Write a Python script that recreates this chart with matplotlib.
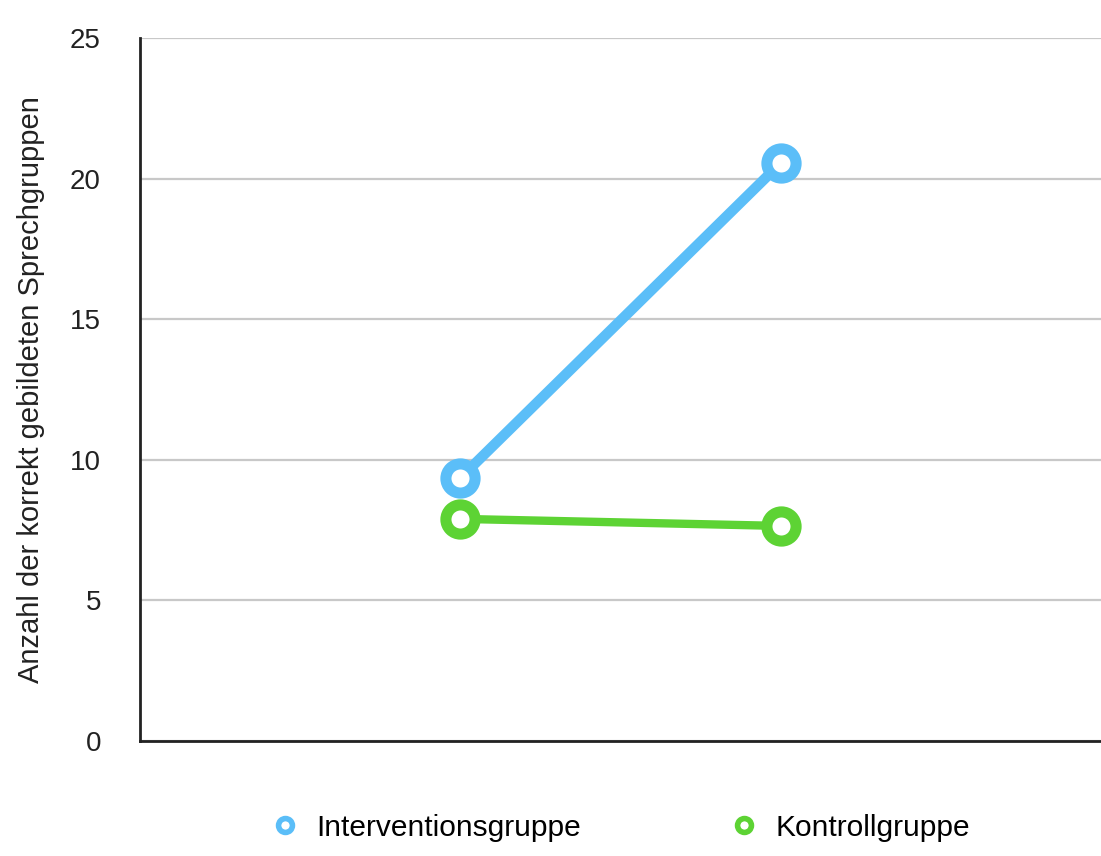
import matplotlib.pyplot as plt
from matplotlib.lines import Line2D

plt.rcParams['font.family'] = ['Liberation Sans', 'DejaVu Sans']

# Messzeitpunkte (ohne Beschriftung) und Mittelwerte der beiden Gruppen
zeitpunkte = [1, 2]
intervention = [9.35, 20.55]
kontrolle = [7.9, 7.65]
gruppen = ['Interventionsgruppe', 'Kontrollgruppe']
farben = ['#5bbef8', '#5dd334']

fig = plt.figure(figsize=(11.01, 8.56), dpi=100)
ax = fig.add_axes([0.127, 0.1343, 0.873, 0.8213])

for werte, farbe, lw in [(intervention, farben[0], 7.5), (kontrolle, farben[1], 6)]:
    ax.plot(zeitpunkte, werte, color=farbe, lw=lw, marker='o', ms=21,
            mew=8, mfc='white', mec=farbe, solid_capstyle='round', zorder=3)

ax.set_xlim(0, 3)
ax.set_ylim(0, 25)
ax.set_yticks([0, 5, 10, 15, 20, 25])
ax.set_xticks([])
ax.tick_params(axis='y', length=0, pad=28, labelsize=20, labelcolor='#222222')
ax.grid(axis='y', color='#c8c8c8', lw=1.6)
ax.set_axisbelow(True)
for s in ['top', 'right']:
    ax.spines[s].set_visible(False)
for s in ['left', 'bottom']:
    ax.spines[s].set_linewidth(2)
    ax.spines[s].set_color('#222222')
ax.set_ylabel('Anzahl der korrekt gebildeten Sprechgruppen', fontsize=21,
              color='#222222', labelpad=18)

handles = [Line2D([], [], ls='none', marker='o', ms=10, mew=4, mfc='white', mec=f)
           for f in farben]
fig.legend(handles, gruppen, loc='center', bbox_to_anchor=(0.562, 0.033), ncol=2,
           frameon=False, fontsize=21.5, columnspacing=4.85, handletextpad=0.45,
           handlelength=1.2)

fig.savefig('out.png', dpi=100)
